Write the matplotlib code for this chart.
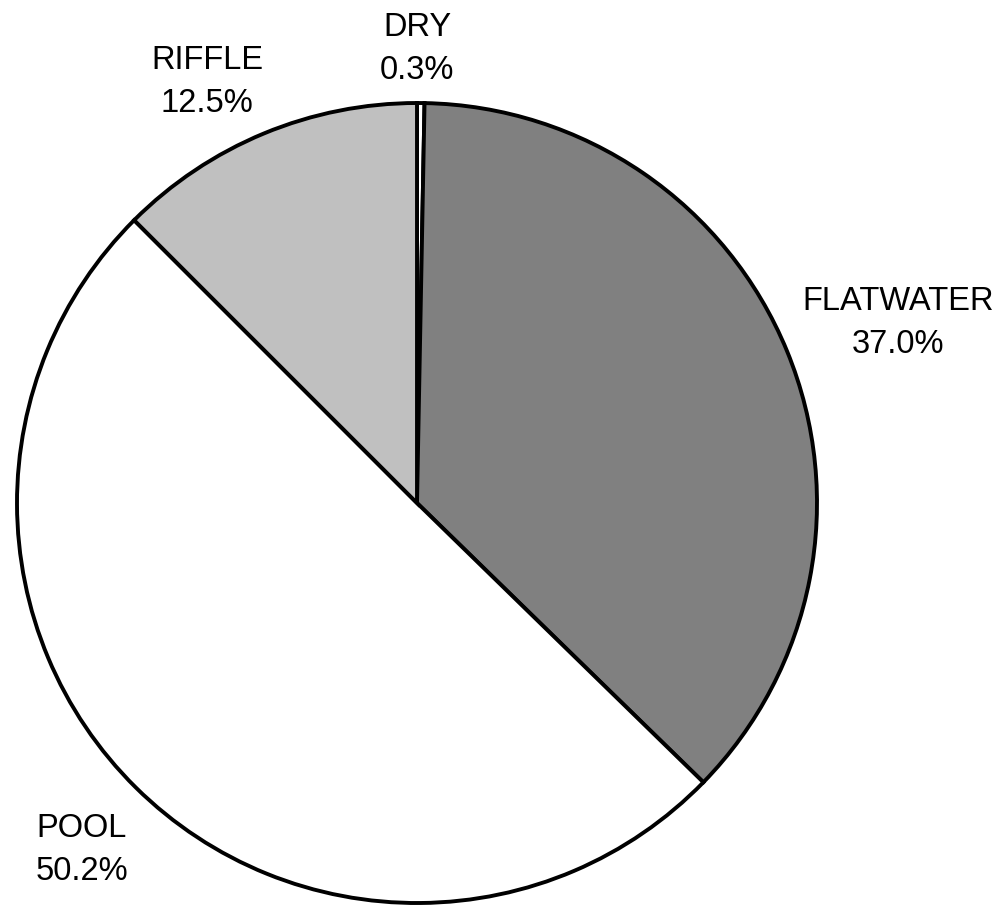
import matplotlib.pyplot as plt

plt.rcParams['font.family'] = ['Liberation Sans', 'DejaVu Sans']

# habitat composition (percent of surveyed length)
categories = ['DRY', 'FLATWATER', 'POOL', 'RIFFLE']
shares = [0.3, 37.0, 50.2, 12.5]
colors = ['white', '#808080', 'white', '#c0c0c0']

# label anchors in pie units (radius = 1)
label_xy = [(0.0, 1.135), (1.2025, 0.45), (-0.8375, -0.8675), (-0.525, 1.0525)]

fig = plt.figure(figsize=(10, 9.06), dpi=100)
ax = fig.add_axes([0.017, 0.0033, 0.8, 0.883])

wedges, _ = ax.pie(shares, colors=colors, startangle=90, counterclock=False,
                   radius=1.0,
                   wedgeprops=dict(edgecolor='black', linewidth=2.8))

for (x, y), name, val in zip(label_xy, categories, shares):
    ax.text(x, y, f'{name}\n{val:.1f}%', ha='center', va='center',
            fontsize=23.5, linespacing=1.47, clip_on=False)

ax.set_xlim(-1.0, 1.0)
ax.set_ylim(-1.0, 1.0)
ax.set_aspect('equal')
ax.axis('off')

fig.savefig('out.png', dpi=100)
